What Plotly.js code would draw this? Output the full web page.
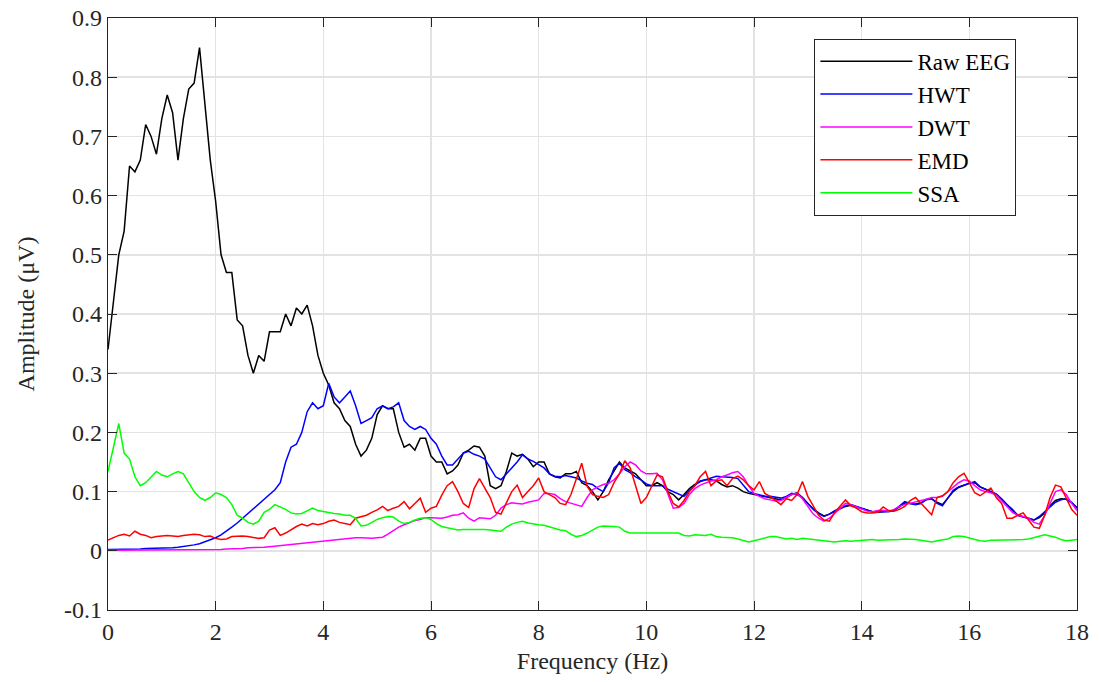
<!DOCTYPE html>
<html>
<head>
<meta charset="utf-8">
<script src="https://cdn.plot.ly/plotly-3.0.1.min.js"></script>
<style>html,body{margin:0;padding:0;background:#fff;}#chart{width:1099px;height:682px;}</style>
</head>
<body>
<div id="chart"></div>
<script>
// Frequency grid (Hz), 0 to 18 in 0.1 steps
const freq = Array.from({length: 181}, (_, i) => +(i * 0.1).toFixed(1));

const seriesNames = ["Raw EEG", "HWT", "DWT", "EMD", "SSA"];

const rawEEG = [
0.34,0.42,0.50,0.54,0.65,0.64,0.66,0.72,0.70,0.67,
0.73,0.77,0.74,0.66,0.73,0.78,0.79,0.85,0.76,0.66,
0.59,0.50,0.47,0.47,0.39,0.38,0.33,0.30,0.33,0.32,
0.37,0.37,0.37,0.40,0.38,0.41,0.40,0.415,0.38,0.33,
0.30,0.28,0.25,0.24,0.22,0.21,0.18,0.16,0.17,0.19,
0.23,0.245,0.24,0.24,0.20,0.175,0.18,0.17,0.19,0.19,
0.16,0.15,0.15,0.13,0.135,0.145,0.165,0.17,0.177,0.175,
0.16,0.11,0.105,0.11,0.134,0.165,0.16,0.163,0.155,0.142,
0.15,0.15,0.13,0.125,0.123,0.13,0.13,0.134,0.115,0.11,
0.10,0.086,0.10,0.12,0.135,0.15,0.14,0.135,0.13,0.12,
0.11,0.11,0.115,0.11,0.10,0.095,0.086,0.095,0.105,0.112,
0.117,0.12,0.12,0.118,0.112,0.108,0.11,0.106,0.10,0.097,
0.095,0.093,0.092,0.09,0.088,0.086,0.09,0.095,0.098,0.09,
0.08,0.071,0.064,0.059,0.062,0.067,0.071,0.075,0.077,0.074,
0.071,0.068,0.066,0.065,0.066,0.066,0.068,0.074,0.081,0.08,
0.079,0.081,0.086,0.088,0.082,0.078,0.09,0.1,0.107,0.111,
0.114,0.115,0.108,0.104,0.1,0.095,0.087,0.077,0.068,0.06,
0.058,0.055,0.052,0.056,0.064,0.076,0.085,0.088,0.087,0.081,
0.073];

const hwt = [
0.002,0.002,0.003,0.003,0.003,0.003,0.003,0.004,0.004,0.004,
0.004,0.005,0.005,0.006,0.007,0.008,0.010,0.012,0.015,0.018,
0.022,0.027,0.033,0.040,0.047,0.055,0.063,0.072,0.080,0.088,
0.095,0.103,0.115,0.15,0.175,0.18,0.20,0.235,0.25,0.24,
0.245,0.283,0.26,0.25,0.26,0.27,0.245,0.215,0.22,0.225,
0.24,0.245,0.24,0.243,0.25,0.22,0.21,0.205,0.21,0.205,
0.19,0.18,0.16,0.145,0.145,0.155,0.165,0.168,0.163,0.16,
0.155,0.14,0.125,0.12,0.13,0.14,0.15,0.162,0.155,0.151,
0.145,0.14,0.13,0.126,0.125,0.127,0.125,0.123,0.118,0.114,
0.112,0.105,0.10,0.115,0.14,0.148,0.137,0.132,0.125,0.12,
0.113,0.11,0.11,0.11,0.104,0.1,0.095,0.092,0.102,0.11,
0.118,0.12,0.123,0.126,0.125,0.125,0.124,0.122,0.11,0.10,
0.097,0.095,0.092,0.092,0.09,0.089,0.092,0.097,0.095,0.09,
0.08,0.07,0.063,0.058,0.062,0.068,0.072,0.076,0.078,0.075,
0.072,0.068,0.066,0.066,0.066,0.066,0.068,0.075,0.083,0.08,
0.078,0.08,0.087,0.088,0.08,0.076,0.09,0.102,0.108,0.111,
0.115,0.117,0.108,0.104,0.10,0.096,0.088,0.078,0.07,0.06,
0.057,0.054,0.052,0.058,0.066,0.075,0.082,0.086,0.088,0.082,
0.072];

const dwt = [
0.001,0.001,0.001,0.001,0.001,0.001,0.001,0.001,0.001,0.001,
0.001,0.001,0.001,0.001,0.001,0.001,0.002,0.002,0.002,0.002,
0.002,0.002,0.003,0.003,0.004,0.004,0.005,0.005,0.006,0.006,
0.007,0.008,0.009,0.010,0.011,0.012,0.013,0.014,0.015,0.016,
0.017,0.018,0.019,0.019,0.020,0.021,0.022,0.022,0.021,0.021,
0.022,0.023,0.028,0.034,0.040,0.044,0.048,0.051,0.053,0.056,
0.056,0.056,0.055,0.057,0.060,0.061,0.064,0.055,0.05,0.056,
0.055,0.054,0.06,0.072,0.078,0.081,0.08,0.079,0.082,0.084,
0.086,0.097,0.097,0.095,0.088,0.083,0.08,0.077,0.075,0.09,
0.103,0.108,0.112,0.114,0.12,0.13,0.142,0.15,0.145,0.135,
0.13,0.13,0.131,0.12,0.095,0.072,0.073,0.08,0.095,0.105,
0.111,0.115,0.118,0.12,0.125,0.128,0.132,0.134,0.125,0.11,
0.097,0.092,0.088,0.086,0.084,0.085,0.09,0.095,0.097,0.088,
0.075,0.062,0.055,0.05,0.055,0.063,0.072,0.08,0.078,0.074,
0.07,0.067,0.066,0.068,0.068,0.067,0.07,0.075,0.078,0.08,
0.082,0.085,0.087,0.09,0.09,0.092,0.1,0.108,0.115,0.12,
0.118,0.11,0.103,0.1,0.098,0.094,0.085,0.075,0.065,0.06,
0.058,0.055,0.048,0.045,0.06,0.08,0.1,0.103,0.095,0.08,
0.068];

const emd = [
0.018,0.022,0.026,0.028,0.025,0.033,0.028,0.026,0.022,0.024,
0.025,0.026,0.025,0.024,0.026,0.027,0.028,0.027,0.024,0.025,
0.021,0.019,0.02,0.024,0.025,0.025,0.024,0.022,0.021,0.022,
0.035,0.039,0.026,0.03,0.036,0.041,0.045,0.042,0.046,0.044,
0.046,0.05,0.052,0.048,0.046,0.044,0.055,0.058,0.06,0.065,
0.069,0.075,0.068,0.072,0.075,0.083,0.071,0.08,0.089,0.065,
0.072,0.075,0.094,0.11,0.117,0.1,0.08,0.073,0.105,0.122,
0.105,0.09,0.065,0.062,0.081,0.1,0.111,0.09,0.1,0.11,
0.123,0.1,0.095,0.09,0.08,0.078,0.095,0.12,0.148,0.109,
0.095,0.092,0.09,0.095,0.115,0.13,0.152,0.14,0.11,0.08,
0.09,0.11,0.128,0.125,0.1,0.08,0.074,0.085,0.1,0.11,
0.125,0.134,0.11,0.118,0.12,0.11,0.122,0.126,0.12,0.11,
0.103,0.117,0.097,0.092,0.085,0.078,0.088,0.085,0.095,0.117,
0.092,0.075,0.06,0.052,0.05,0.065,0.075,0.086,0.076,0.072,
0.066,0.064,0.064,0.065,0.074,0.068,0.067,0.07,0.075,0.085,
0.09,0.08,0.07,0.061,0.09,0.093,0.1,0.115,0.125,0.131,
0.115,0.098,0.093,0.1,0.106,0.09,0.08,0.055,0.055,0.06,
0.064,0.052,0.04,0.038,0.06,0.09,0.111,0.108,0.09,0.07,
0.06];

const ssa = [
0.134,0.175,0.215,0.165,0.155,0.125,0.11,0.115,0.125,0.134,
0.128,0.125,0.13,0.134,0.13,0.115,0.1,0.09,0.085,0.09,
0.098,0.095,0.09,0.078,0.06,0.055,0.048,0.045,0.05,0.065,
0.07,0.078,0.074,0.07,0.064,0.062,0.063,0.068,0.072,0.068,
0.066,0.065,0.063,0.062,0.06,0.06,0.055,0.042,0.043,0.048,
0.053,0.056,0.058,0.057,0.05,0.046,0.048,0.052,0.055,0.056,
0.053,0.046,0.041,0.039,0.037,0.035,0.036,0.036,0.037,0.037,
0.036,0.035,0.034,0.033,0.04,0.045,0.048,0.05,0.047,0.045,
0.044,0.043,0.04,0.037,0.035,0.034,0.028,0.024,0.026,0.03,
0.035,0.04,0.042,0.042,0.041,0.04,0.033,0.03,0.03,0.031,
0.03,0.031,0.03,0.031,0.03,0.03,0.03,0.026,0.025,0.027,
0.026,0.026,0.028,0.024,0.023,0.023,0.022,0.02,0.018,0.015,
0.017,0.019,0.022,0.024,0.024,0.022,0.02,0.021,0.019,0.021,
0.02,0.019,0.018,0.017,0.015,0.015,0.016,0.017,0.016,0.017,
0.018,0.019,0.019,0.018,0.018,0.018,0.019,0.019,0.02,0.02,
0.019,0.018,0.016,0.015,0.017,0.018,0.02,0.024,0.025,0.024,
0.021,0.019,0.017,0.016,0.018,0.018,0.019,0.019,0.018,0.019,
0.019,0.02,0.022,0.024,0.027,0.025,0.023,0.019,0.017,0.018,
0.019];

const xTickVals = [0,2,4,6,8,10,12,14,16,18];
const xTickText = ["0","2","4","6","8","10","12","14","16","18"];
const yTickVals = [-0.1,0,0.1,0.2,0.3,0.4,0.5,0.6,0.7,0.8,0.9];
const yTickText = ["-0.1","0","0.1","0.2","0.3","0.4","0.5","0.6","0.7","0.8","0.9"];

const seriesValues = [rawEEG, hwt, dwt, emd, ssa];
const seriesColors = ["#000000", "#0000ff", "#ff00ff", "#ff0000", "#00ff00"];

const traces = seriesNames.map((name, k) => ({
  x: freq,
  y: seriesValues[k],
  type: "scatter",
  mode: "lines",
  name: name,
  line: {color: seriesColors[k], width: 1.5}
}));

const fontFam = "'Liberation Serif', serif";
const layout = {
  width: 1099,
  height: 682,
  margin: {l: 108, r: 22, t: 18, b: 72},
  paper_bgcolor: "#ffffff",
  plot_bgcolor: "#ffffff",
  font: {family: fontFam, size: 24, color: "#262626"},
  showlegend: true,
  legend: {
    x: 0.729, y: 0.965, xanchor: "left", yanchor: "top",
    bgcolor: "#ffffff", bordercolor: "#262626", borderwidth: 1,
    font: {family: fontFam, size: 23, color: "#000000"},
    itemwidth: 92,
    tracegroupgap: 0
  },
  xaxis: {
    range: [0, 18],
    tickvals: xTickVals, ticktext: xTickText,
    ticks: "inside", ticklen: 9, tickwidth: 1, tickcolor: "#262626",
    showline: true, linecolor: "#262626", linewidth: 1.3, mirror: "ticks",
    showgrid: true, gridcolor: "#e3e3e3", gridwidth: 1.5,
    zeroline: false,
    tickfont: {family: fontFam, size: 24, color: "#262626"},
    title: {text: "Frequency (Hz)", font: {family: fontFam, size: 24, color: "#262626"}, standoff: 8}
  },
  yaxis: {
    range: [-0.1, 0.9],
    tickvals: yTickVals, ticktext: yTickText,
    ticks: "inside", ticklen: 9, tickwidth: 1, tickcolor: "#262626",
    showline: true, linecolor: "#262626", linewidth: 1.3, mirror: "ticks",
    showgrid: true, gridcolor: "#e3e3e3", gridwidth: 1.5,
    zeroline: false,
    tickfont: {family: fontFam, size: 24, color: "#262626"},
    title: {text: "Amplitude (μV)", font: {family: fontFam, size: 24, color: "#262626"}, standoff: 22}
  }
};

Plotly.newPlot("chart", traces, layout, {displayModeBar: false, staticPlot: true});
</script>
</body>
</html>
